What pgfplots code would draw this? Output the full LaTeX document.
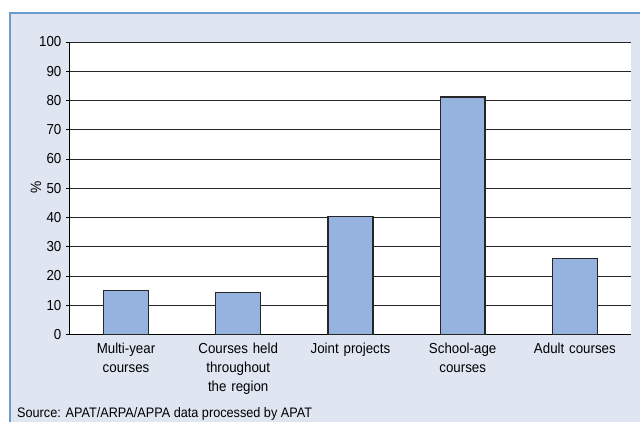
\documentclass[border=0pt]{standalone}
\usepackage{pgfplots}
\pgfplotsset{compat=1.18}
\usepackage{fontspec}
\setmainfont{Liberation Sans}[FakeStretch=0.92]
\definecolor{panel}{HTML}{E0E6F1}
\definecolor{border}{HTML}{6A9BCB}
\definecolor{barfill}{HTML}{95B3DE}
\definecolor{barline}{HTML}{262626}
\begin{document}
\begin{tikzpicture}
\fill[white] (0pt,0pt) rectangle (641pt,423pt);
\fill[panel] (10pt,0pt) rectangle (641pt,410pt);
\draw[border,line width=2pt] (10pt,0pt) -- (10pt,410pt) -- (641pt,410pt);
\begin{axis}[
  at={(70pt,88pt)}, anchor=south west,
  scale only axis, width=562pt, height=293pt,
  xmin=-0.5, xmax=4.5, ymin=0, ymax=100,
  axis lines*=left,
  axis line style={black, line width=0.8pt},
  axis background/.style={fill=white},
  ytick={0,10,...,100},
  ymajorgrids, grid style={black!85, line width=0.8pt},
  xtick={0,1,2,3,4},
  xticklabels={Multi-year courses, Courses held throughout the region, Joint projects, School-age courses, Adult courses},
  minor xtick={-0.5,0.5,1.5,2.5,3.5,4.5},
  xtick style={draw=none},
  minor x tick style={black, line width=0.8pt},
  ytick style={black, line width=0.8pt},
  tick align=outside,
  major tick length=4pt, minor tick length=4pt,
  xticklabel style={align=center, text width=100pt, font=\fontsize{14.5}{19}\selectfont, yshift=-1pt},
  yticklabel style={font=\fontsize{14.5}{17}\selectfont, xshift=-1pt},
  /pgf/number format/assume math mode=true,
  ybar, bar width=45pt,
]
\addplot[fill=barfill, draw=barline, line width=1.3pt] coordinates {(0,15) (1,14.3) (2,40.3) (3,81.2) (4,26)};
\end{axis}
\node[rotate=90, font=\fontsize{15}{17}\selectfont] at (36pt,235pt) {\%};
\node[anchor=base west, font=\fontsize{13.8}{17}\selectfont, inner sep=0pt] at (17pt,5pt) {Source: APAT/ARPA/APPA data processed by APAT};
\end{tikzpicture}
\end{document}
